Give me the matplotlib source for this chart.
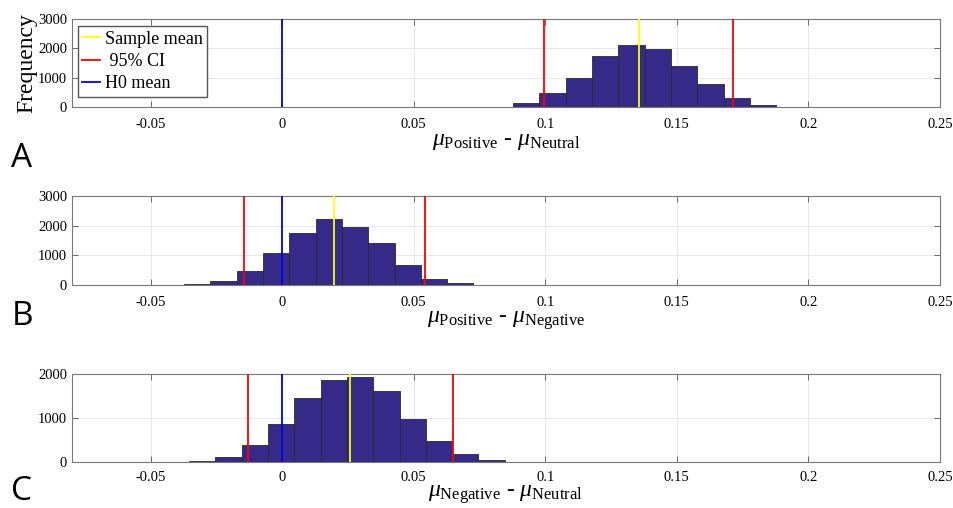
import numpy as np
import matplotlib
matplotlib.use('Agg')
import matplotlib.pyplot as plt

plt.rcParams['font.family'] = ['Liberation Serif', 'DejaVu Serif']
plt.rcParams['mathtext.fontset'] = 'custom'
plt.rcParams['mathtext.rm'] = 'Liberation Serif'
plt.rcParams['mathtext.it'] = 'Liberation Serif:italic'

# bootstrap distributions of the mean differences (10000 resamples each)
bin_width = 0.01

start_a = 0.0478
counts_a = [1, 2, 6, 20, 148, 500, 1011, 1727, 2125, 1977, 1398, 795, 307, 70, 8, 1]
lines_a = {'mean': 0.1357, 'ci': (0.0996, 0.1714)}

start_b = -0.0573
counts_b = [1, 3, 22, 146, 461, 1067, 1764, 2213, 1955, 1404, 674, 213, 60, 6]
lines_b = {'mean': 0.0196, 'ci': (-0.0146, 0.0544)}

start_c = -0.0754
counts_c = [0, 1, 1, 3, 30, 121, 386, 871, 1455, 1879, 1932, 1621, 977, 492, 189, 53, 3, 1]
lines_c = {'mean': 0.0257, 'ci': (-0.0129, 0.0650)}

h0_mean = 0.0

xlabels = [r'$\mu_{\mathrm{Positive}}$ - $\mu_{\mathrm{Neutral}}$',
           r'$\mu_{\mathrm{Positive}}$ - $\mu_{\mathrm{Negative}}$',
           r'$\mu_{\mathrm{Negative}}$ - $\mu_{\mathrm{Neutral}}$']
panel_names = ['A', 'B', 'C']
xticks = [-0.05, 0, 0.05, 0.1, 0.15, 0.2, 0.25]
xticklabels = ['-0.05', '0', '0.05', '0.1', '0.15', '0.2', '0.25']
yticks = [[0, 1000, 2000, 3000], [0, 1000, 2000, 3000], [0, 1000, 2000]]

fig = plt.figure(figsize=(9.54, 5.08), dpi=100)

# axes rectangles in figure fractions
rects = [[0.0752, 0.7888, 0.910, 0.1738],
         [0.0752, 0.4390, 0.910, 0.1750],
         [0.0752, 0.0900, 0.910, 0.1730]]
label_y = [0.655, 0.345, 0.0]
tick_pads = [8, 8, 6]
label_pads = [0, 0, 0]

data = [(start_a, counts_a, lines_a), (start_b, counts_b, lines_b), (start_c, counts_c, lines_c)]

for i, (start, counts, lines) in enumerate(data):
    ax = fig.add_axes(rects[i])
    ax.set_axisbelow(True)
    lefts = start + bin_width * np.arange(len(counts))
    ax.bar(lefts, counts, width=bin_width, align='edge', color='#352a87',
           edgecolor='#2a2a2a', linewidth=0.6, zorder=2)

    l1 = ax.axvline(lines['mean'], color='#ffff00', lw=1.3, zorder=3)
    l2 = ax.axvline(lines['ci'][0], color='#ff0000', lw=1.3, zorder=3)
    ax.axvline(lines['ci'][1], color='#ff0000', lw=1.3, zorder=3)
    l3 = ax.axvline(h0_mean, color='#0000ff', lw=1.3, zorder=3)

    ax.set_xlim(-0.08, 0.25)
    ax.set_ylim(yticks[i][0], yticks[i][-1])
    ax.set_xticks(xticks)
    ax.set_xticklabels(xticklabels)
    ax.set_yticks(yticks[i])
    ax.tick_params(direction='in', length=4, width=0.6, color='#555555',
                   labelsize=10.5, top=True, right=True)
    ax.tick_params(axis='x', pad=tick_pads[i])
    ax.grid(True, color='#e4e4e4', linewidth=0.6)
    for sp in ax.spines.values():
        sp.set_color('#777777')
        sp.set_linewidth(0.8)

    ax.set_xlabel(xlabels[i], fontsize=17, labelpad=label_pads[i])

    if i == 0:
        ax.set_ylabel('Frequency', fontsize=17, labelpad=0)
        ax.legend([l1, l2, l3], ['Sample mean', ' 95% CI', 'H0 mean'],
                  loc='upper left', bbox_to_anchor=(0.007, 0.92),
                  fontsize=13, frameon=True, fancybox=False, edgecolor='#555555',
                  framealpha=1, handlelength=1.0, handletextpad=0.25,
                  labelspacing=0.3, borderpad=0.25, borderaxespad=0)

    fig.text(0.012, label_y[i], panel_names[i], fontsize=24,
             family='Open Sans', ha='left', va='bottom')

fig.savefig('out.png', dpi=100)
